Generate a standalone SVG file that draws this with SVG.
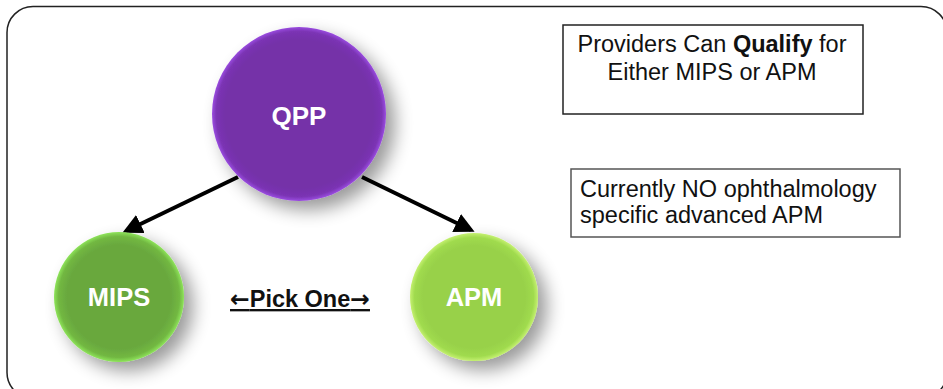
<svg xmlns="http://www.w3.org/2000/svg" width="943" height="389" viewBox="0 0 943 389">
<style>
.lbl{font-family:"Liberation Sans",Arial,sans-serif;font-weight:bold;fill:#fff;text-anchor:middle}
.txt{font-family:"Liberation Sans",Arial,sans-serif;font-size:23.5px;fill:#111}
.conn{stroke:#000;stroke-width:4;fill:none}
.arr{font-family:"DejaVu Sans",sans-serif}
</style>
<defs>
<radialGradient id="gq" cx="0.5" cy="0.5" r="0.5">
<stop offset="0.85" stop-color="#7430a8"/>
<stop offset="0.95" stop-color="#7b34b4"/>
<stop offset="1" stop-color="#9a4ce0"/>
</radialGradient>
<radialGradient id="gm" cx="0.5" cy="0.5" r="0.5">
<stop offset="0.8" stop-color="#69a83e"/>
<stop offset="0.93" stop-color="#72b842"/>
<stop offset="1" stop-color="#8ee45a"/>
</radialGradient>
<radialGradient id="ga" cx="0.5" cy="0.5" r="0.5">
<stop offset="0.8" stop-color="#98d14a"/>
<stop offset="0.93" stop-color="#a0db4e"/>
<stop offset="1" stop-color="#c4f070"/>
</radialGradient>
<filter id="sh" x="-30%" y="-30%" width="170%" height="170%">
<feGaussianBlur in="SourceAlpha" stdDeviation="9"/>
<feOffset dx="9" dy="9" result="b"/>
<feComponentTransfer><feFuncA type="linear" slope="0.4"/></feComponentTransfer>
<feMerge><feMergeNode/><feMergeNode in="SourceGraphic"/></feMerge>
</filter>
<marker id="ah" markerWidth="5" markerHeight="5" refX="4" refY="2.5" orient="auto" markerUnits="strokeWidth">
<path d="M0,0 L5,2.5 L0,5 Z" fill="#000"/>
</marker>
</defs>
<rect x="0" y="0" width="943" height="389" fill="#fff"/>
<rect x="7" y="6.5" width="940" height="392" rx="26" fill="none" stroke="#222" stroke-width="1.5"/>
<g id="connectors">
<line class="conn" x1="238" y1="177" x2="126" y2="231" marker-end="url(#ah)"/>
<line class="conn" x1="362" y1="177" x2="471" y2="230" marker-end="url(#ah)"/>
</g>
<g id="qpp">
<circle cx="299" cy="114" r="87" fill="url(#gq)" filter="url(#sh)"/>
<text class="lbl" x="299" y="125" font-size="26">QPP</text>
</g>
<g id="mips">
<circle cx="119" cy="297" r="65" fill="url(#gm)" filter="url(#sh)"/>
<text class="lbl" x="119" y="306" font-size="25.5">MIPS</text>
</g>
<g id="apm">
<circle cx="474" cy="297" r="64" fill="url(#ga)" filter="url(#sh)"/>
<text class="lbl" x="474" y="306" font-size="25.5">APM</text>
</g>
<g id="pick">
<text x="300" y="307" font-family="'Liberation Sans',Arial,sans-serif" font-size="23.5" font-weight="bold" fill="#111" text-anchor="middle" text-decoration="underline"><tspan class="arr">←</tspan>Pick One<tspan class="arr">→</tspan></text>
</g>
<g id="note1">
<rect x="563" y="25" width="300" height="89" fill="#fff" stroke="#222" stroke-width="1.5"/>
<text class="txt" x="712" y="52" text-anchor="middle">Providers Can <tspan font-weight="bold">Qualify</tspan> for</text>
<text class="txt" x="712" y="80" text-anchor="middle">Either MIPS or APM</text>
</g>
<g id="note2">
<rect x="571" y="169" width="329" height="68" fill="#fff" stroke="#555" stroke-width="1.5"/>
<text class="txt" x="580" y="197">Currently NO ophthalmology</text>
<text class="txt" x="580" y="223">specific advanced APM</text>
</g>
</svg>
